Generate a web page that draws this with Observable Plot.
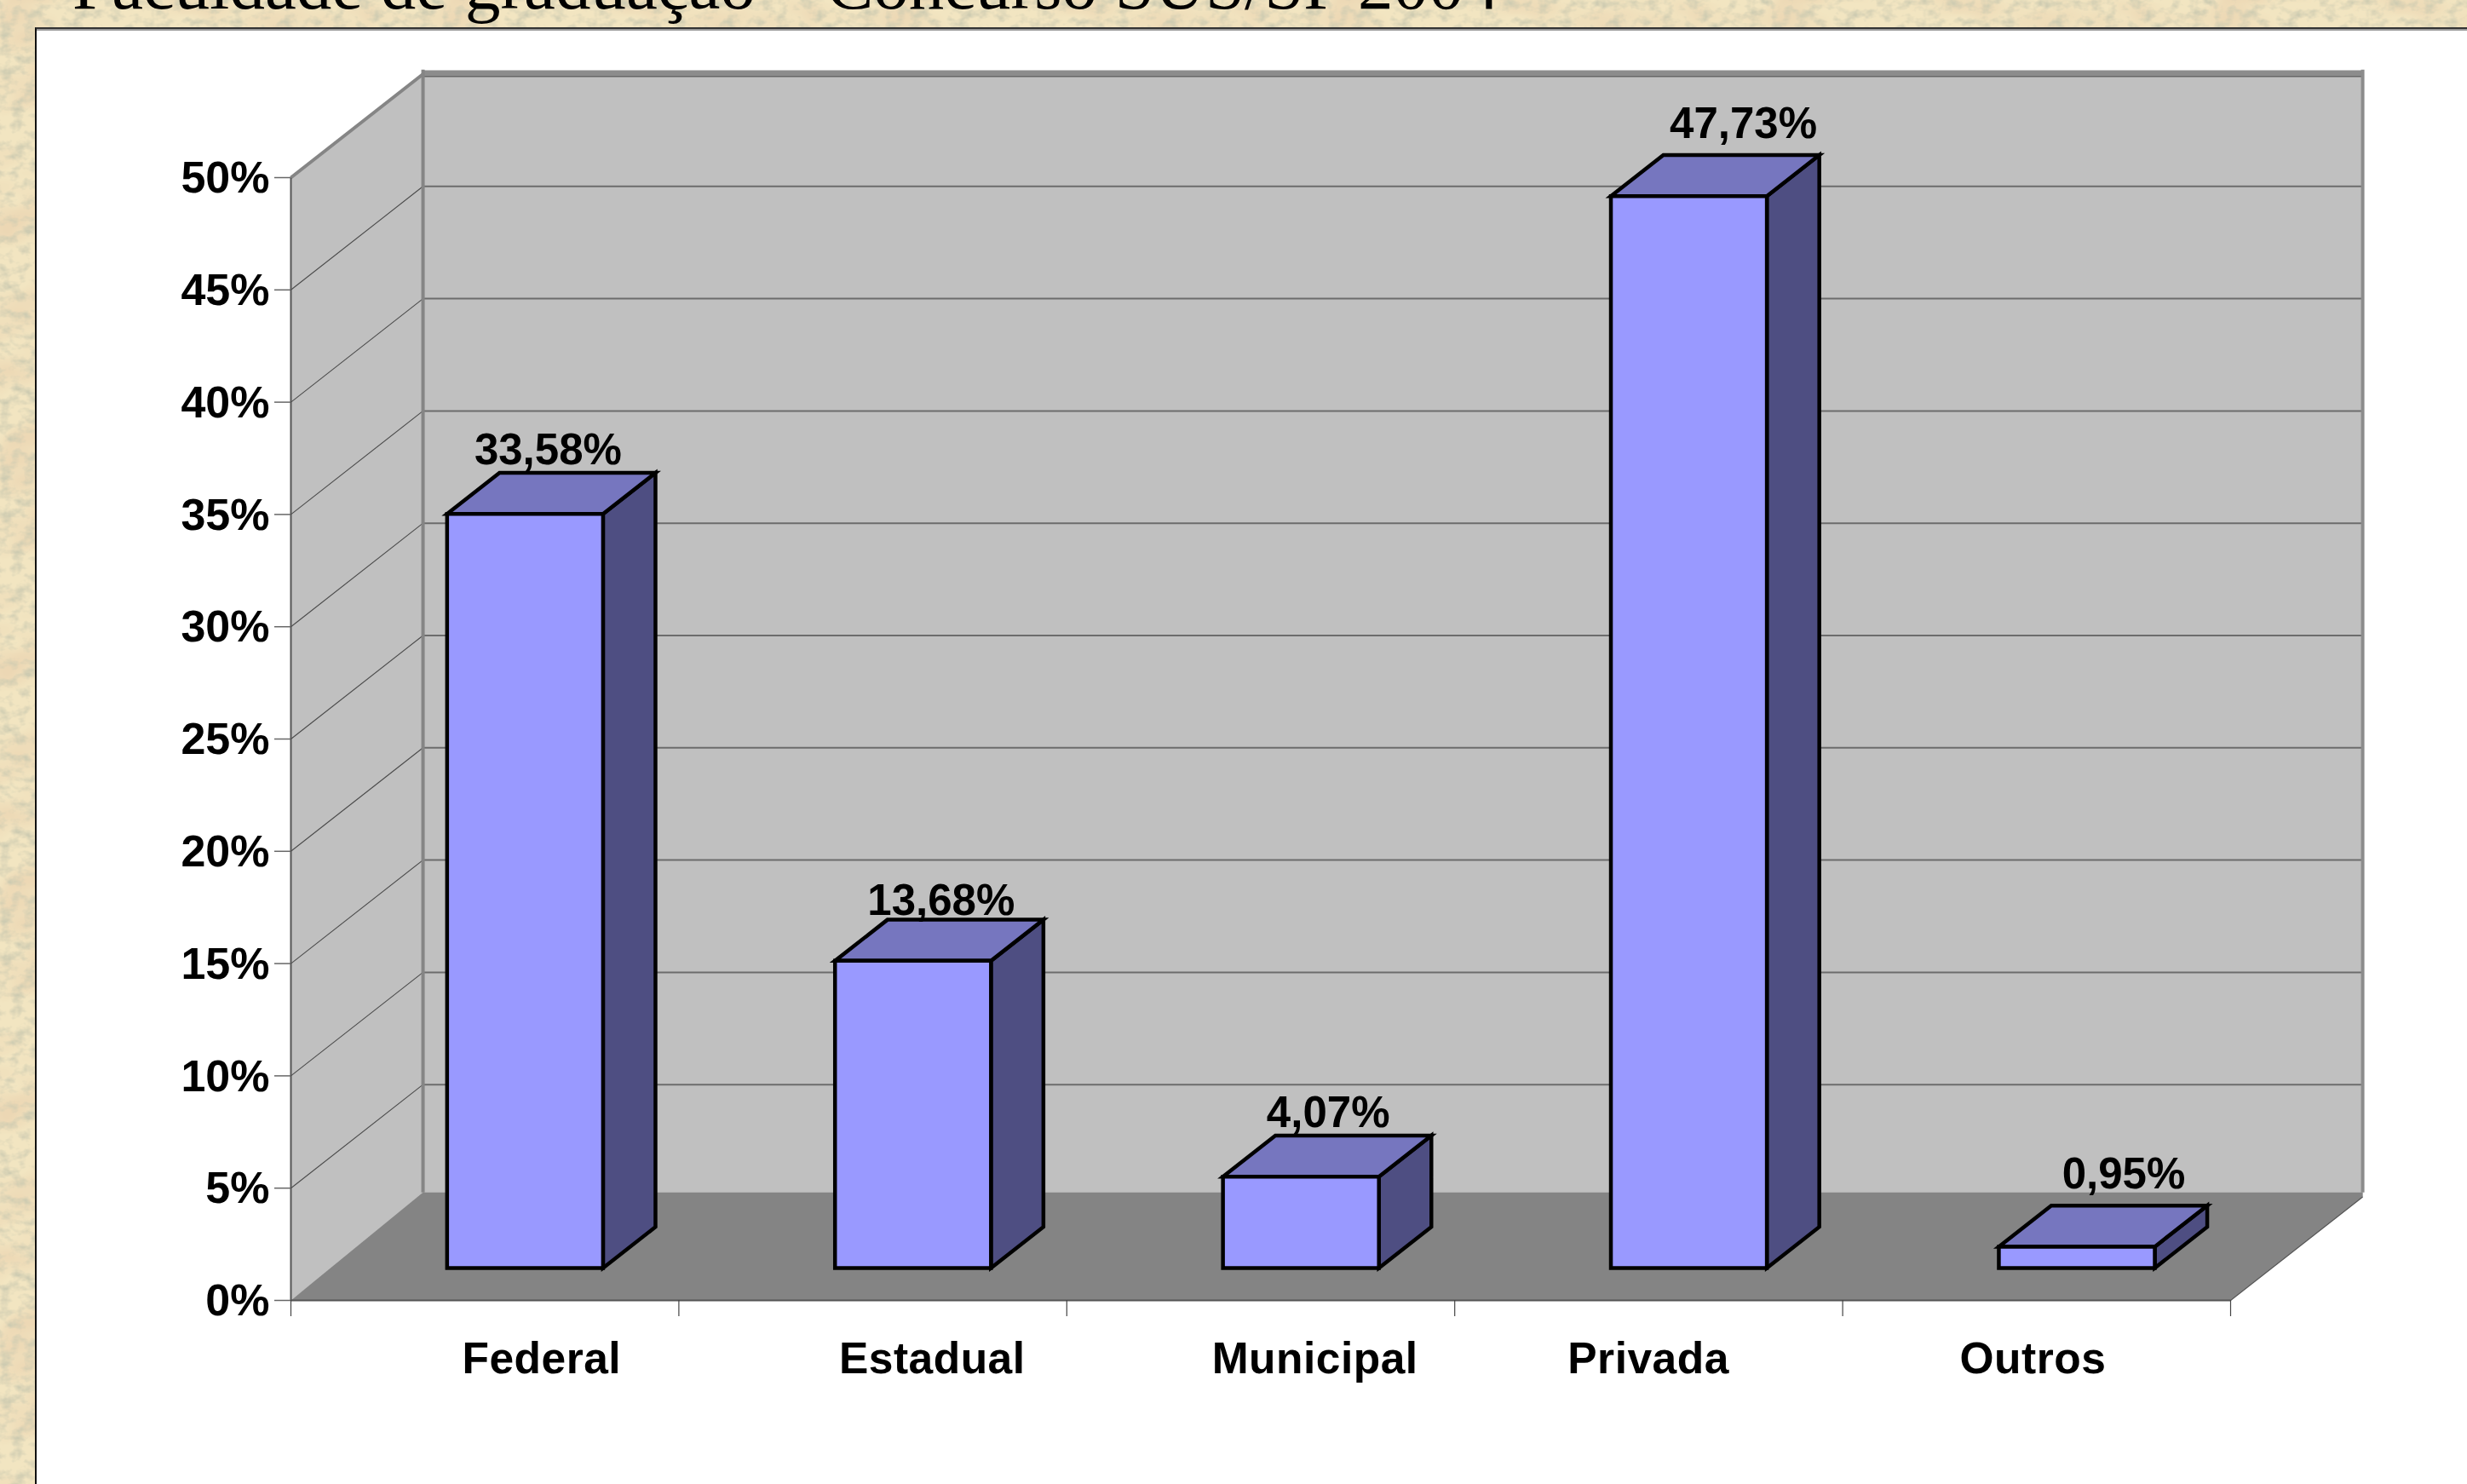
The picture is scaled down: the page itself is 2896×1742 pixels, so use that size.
<!DOCTYPE html>
<html lang="pt">
<head>
<meta charset="utf-8">
<title>Faculdade de graduação – Concurso SUS/SP 2004</title>
<script src="https://cdn.jsdelivr.net/npm/d3@7"></script>
<script src="https://cdn.jsdelivr.net/npm/@observablehq/plot@0.6"></script>
<style>
  html, body { margin: 0; padding: 0; width: 2896px; height: 1742px; overflow: hidden; }
  body {
    background-color: #eddfb8;
    background-image: url("data:image/svg+xml;utf8,<svg xmlns='http://www.w3.org/2000/svg' width='520' height='520'><filter id='a' x='0' y='0' width='100%' height='100%'><feTurbulence type='fractalNoise' baseFrequency='0.012 0.018' numOctaves='3' seed='11' stitchTiles='stitch'/><feColorMatrix values='0 0 0 0 0.83  0 0 0 0 0.66  0 0 0 0 0.44  2.2 0 0 0 -0.95'/></filter><filter id='b' x='0' y='0' width='100%' height='100%'><feTurbulence type='fractalNoise' baseFrequency='0.07 0.09' numOctaves='3' seed='3' stitchTiles='stitch'/><feColorMatrix values='0 0 0 0 0.62  0 0 0 0 0.60  0 0 0 0 0.44  0 2.4 0 0 -1.05'/></filter><rect width='520' height='520' fill='%23f2e5c1'/><rect width='520' height='520' filter='url(%23a)'/><rect width='520' height='520' filter='url(%23b)'/></svg>");
  }
  #title {
    position: absolute; left: 85px; top: -64px; white-space: nowrap;
    font: 83px/92px "Liberation Serif", serif; color: #000;
  }
  #panel {
    position: absolute; left: 41px; top: 32px; width: 2855px; height: 1710px;
    background: #fff; border-left: 2px solid #111; border-top: 2px solid #333;
    box-sizing: border-box;
  }
  #panel svg { position: absolute; left: 0; top: 0; }
  .xlab text { letter-spacing: 0.5px; }
</style>
</head>
<body>
<div id="title">Faculdade de graduação – Concurso SUS/SP 2004</div>
<div id="panel"></div>
<script>
const categories = ["Federal", "Estadual", "Municipal", "Privada", "Outros"];
const percentages = [33.58, 13.68, 4.07, 47.73, 0.95];
const yTicks = [0, 5, 10, 15, 20, 25, 30, 35, 40, 45, 50];
const xTicks = [0, 1, 2, 3, 4, 5];

// Oblique projection of the chart's box, in data units: depth 0 = front edge, 1 = back wall.
const depthX = 0.3405, depthY = 4.61;
const P = (x, y, d = 0) => ({x: x + d * depthX, y: y + d * depthY});
const poly = (id, pts) => pts.map(([x, y, d]) => ({id, ...P(x, y, d)}));

const barLeft = 0.296, barRight = 0.698, barFront = 0.313, barBack = 0.71;
const bars = categories.map((c, i) => ({c, i, v: percentages[i]}));

const frontFaces = bars.flatMap(b => poly(b.c, [
  [b.i + barLeft, 0, barFront], [b.i + barRight, 0, barFront],
  [b.i + barRight, b.v, barFront], [b.i + barLeft, b.v, barFront]]));
const topFaces = bars.flatMap(b => poly(b.c, [
  [b.i + barLeft, b.v, barFront], [b.i + barRight, b.v, barFront],
  [b.i + barRight, b.v, barBack], [b.i + barLeft, b.v, barBack]]));
const sideFaces = bars.flatMap(b => poly(b.c, [
  [b.i + barRight, 0, barFront], [b.i + barRight, 0, barBack],
  [b.i + barRight, b.v, barBack], [b.i + barRight, b.v, barFront]]));

const backWall = poly("back", [[0, 0, 1], [5, 0, 1], [5, 50, 1], [0, 50, 1]]);
const leftWall = poly("left", [[0, 0, 0], [0, 50, 0], [0, 50, 1], [0, 0, 1]]);
const floor = poly("floor", [[0, 0, 0], [5, 0, 0], [5, 0, 1], [5, 0.2, 1], [0, 0.2, 1]]);

const innerTicks = yTicks.filter(v => v > 0 && v < 50);
const backGrid = innerTicks.flatMap(v => poly(v, [[0, v, 1], [5, v, 1]]));
const leftGrid = innerTicks.flatMap(v => poly(v, [[0, v, 0], [0, v, 1]]));

const polyOpts = (fill, extra = {}) => ({
  x: "x", y: "y", z: "id", fill, curve: "linear-closed",
  stroke: "none", strokeLinejoin: "miter", strokeLinecap: "butt", ...extra
});
const seg = (pts, stroke, strokeWidth) => Plot.line(poly("s", pts), {
  x: "x", y: "y", stroke, strokeWidth, strokeLinecap: "butt"
});
const barStroke = {stroke: "#000", strokeWidth: 4.5, strokeMiterlimit: 10};
const pct = d => d.v.toFixed(2).replace(".", ",") + "%";
const labelX = d => P(d.i + (barLeft + barRight) / 2, d.v, barFront).x;
const labelY = d => P(d.i, d.v, barFront).y;
const catX = d => P(d.i + (barLeft + barRight) / 2, 0, 0).x;
const FONT = '"Liberation Sans", Arial, sans-serif';
const textBase = {fontFamily: FONT, fontWeight: "bold", fill: "#000"};
// Offsets of the labels from their bars (the reference's own uneven placement).
const labelDx = [27, 33, 32, 64, 55];
const labelDy = [-75, -70, -75, -85, -85];
const catDx = [68, 71, 65, 1, -3];

const chart = Plot.plot({
  width: 2853, height: 1708,
  marginLeft: 298, marginRight: 278, marginTop: 174, marginBottom: 216,
  x: {type: "linear", domain: [0, 5], axis: null},
  y: {type: "linear", domain: [0, 50], axis: null},
  style: {fontFamily: FONT, fontWeight: "bold", fontSize: "50px", background: "white", overflow: "visible", boxShadow: "inset 0 2px 0 #999"},
  marks: [
    Plot.line(backWall, polyOpts("#c0c0c0")),
    Plot.line(leftWall, polyOpts("#c0c0c0")),
    Plot.line(floor, polyOpts("#848484")),
    Plot.line(backGrid, {x: "x", y: "y", z: "id", stroke: "#6c6c6c", strokeWidth: 2, strokeLinecap: "butt"}),
    Plot.line(leftGrid, {x: "x", y: "y", z: "id", stroke: "#4a4a4a", strokeWidth: 1.1, strokeLinecap: "butt"}),
    seg([[0, 49.9, 1], [5, 49.9, 1]], "#666", 2),
    seg([[0, 50.06, 1], [5, 50.06, 1]], "#8c8c8c", 6),
    seg([[0, 0.2, 1], [0, 50.2, 1]], "#858585", 4),
    seg([[5, 0.2, 1], [5, 50.2, 1]], "#8c8c8c", 4),
    seg([[0, 50, 0], [0, 50, 1]], "#858585", 4),
    seg([[0, 0, 0], [0, 50, 0]], "#555", 2),
    seg([[0, 0, 0], [5, 0, 0]], "#555", 2),
    seg([[5, 0, 0], [5, 0, 1]], "#555", 1.2),
    Plot.ruleX(xTicks, {x: d => d, y1: 0, y2: -0.72, stroke: "#444", strokeWidth: 1.2}),
    Plot.ruleY(yTicks, {y: d => d, x1: -0.0417, x2: 0, stroke: "#666", strokeWidth: 1.5}),
    Plot.axisY({
      anchor: "left", ticks: yTicks, tickSize: 0, tickPadding: 25, label: null, dy: 1,
      tickFormat: d => d + "%", fill: "#000", fontSize: 52, fontFamily: FONT, fontWeight: "bold"
    }),
    Plot.line(sideFaces, polyOpts("#4e4e82", barStroke)),
    Plot.line(topFaces, polyOpts("#7676bf", barStroke)),
    Plot.line(frontFaces, polyOpts("#9999ff", barStroke)),
    ...bars.map((b, i) => Plot.text([b], {...textBase, x: labelX, y: labelY, text: pct, fontSize: 51, dx: labelDx[i], dy: labelDy[i]})),
    ...bars.map((b, i) => Plot.text([b], {...textBase, className: "xlab", x: catX, y: () => 0, text: "c", fontSize: 51.5, dx: catDx[i], dy: 69}))
  ]
});
document.getElementById("panel").appendChild(chart);
</script>
</body>
</html>
